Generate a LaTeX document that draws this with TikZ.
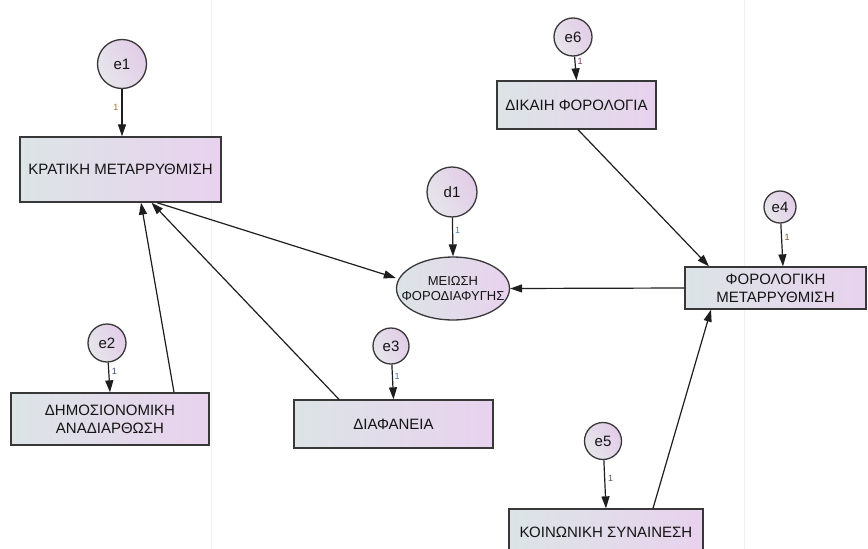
\documentclass[tikz,border=0pt]{standalone}
\usepackage{fontspec}
\setmainfont{Liberation Sans}
\usetikzlibrary{arrows.meta,shapes.geometric}
\definecolor{edgegray}{HTML}{383838}
\definecolor{linec}{HTML}{1E1E1E}
\definecolor{fillL}{HTML}{DCE4E6}
\definecolor{fillR}{HTML}{E8D2EE}
\definecolor{circL}{HTML}{E6E6EA}
\definecolor{circR}{HTML}{E2CCE8}
\definecolor{textc}{HTML}{141414}
\definecolor{pageline}{HTML}{F1F1F1}
\definecolor{wA}{HTML}{A8742C}
\definecolor{wB}{HTML}{3C7DB4}
\definecolor{wC}{HTML}{8A2A66}
\definecolor{wD}{HTML}{7A4E2A}
\definecolor{wE}{HTML}{3A4C80}
\definecolor{wF}{HTML}{4A6EA0}
\definecolor{wG}{HTML}{5A5A5A}
\begin{document}
\begin{tikzpicture}[x=1pt,y=-1pt,
  obs/.style={rectangle, draw=edgegray, line width=1.3pt, left color=fillL, right color=fillR,
    inner sep=0pt, align=center, text=textc, font=\fontsize{15}{18}\selectfont},
  err/.style={circle, draw=edgegray, line width=1.3pt, left color=circL, right color=circR,
    shading angle=120, inner sep=0pt, text=textc, font=\fontsize{15}{18}\selectfont},
  lat/.style={ellipse, draw=edgegray, line width=1.3pt, left color=fillL, right color=fillR,
    inner sep=0pt},
  lattext/.style={inner sep=0pt, align=center, text=textc, font=\fontsize{13}{15}\selectfont},
  pth/.style={draw=linec, line width=1.2pt, -{Triangle[length=12pt,width=8pt]}},
  wt/.style={inner sep=0pt, font=\fontsize{9}{10}\selectfont}]
\useasboundingbox (0,0) rectangle (868,549);
\fill[white] (0,0) rectangle (868,549);

% page boundaries of the drawing sheet
\draw[pageline, line width=0.8pt] (211,0) -- (211,549);
\draw[pageline, line width=0.8pt] (744,0) -- (744,549);

% observed variables
\node[obs, minimum width=201pt, minimum height=65pt] (kr) at (120.5,169.5) {ΚΡΑΤΙΚΗ ΜΕΤΑΡΡΥΘΜΙΣΗ};
\node[obs, minimum width=198pt, minimum height=52pt] (dh) at (110,419) {ΔΗΜΟΣΙΟΝΟΜΙΚΗ\\ΑΝΑΔΙΑΡΘΩΣΗ};
\node[obs, minimum width=199pt, minimum height=48pt] (di) at (393.5,424) {ΔΙΑΦΑΝΕΙΑ};
\node[obs, minimum width=159pt, minimum height=48pt] (dk) at (576.5,105) {ΔΙΚΑΙΗ ΦΟΡΟΛΟΓΙΑ};
\node[obs, minimum width=181pt, minimum height=42pt] (fm) at (775.5,288) {ΦΟΡΟΛΟΓΙΚΗ\\ΜΕΤΑΡΡΥΘΜΙΣΗ};
\node[obs, minimum width=194pt, minimum height=46pt] (ko) at (606,532) {ΚΟΙΝΩΝΙΚΗ ΣΥΝΑΙΝΕΣΗ};

% latent outcome: fixed-size ellipse with its label set on top
\node[lat, minimum width=113pt, minimum height=63pt] (mf) at (453,288.5) {};
\node[lattext] (mftext) at (mf.center) {ΜΕΙΩΣΗ\\ΦΟΡΟΔΙΑΦΥΓΗΣ};

% error terms
\node[err, minimum size=49pt] (e1) at (122,64) {e1};
\node[err, minimum size=50pt] (d1) at (452,192) {d1};
\node[err, minimum size=38pt] (e6) at (573,37) {e6};
\node[err, minimum size=32pt] (e4) at (780,207) {e4};
\node[err, minimum size=38pt] (e2) at (107,343) {e2};
\node[err, minimum size=36pt] (e3) at (391,346) {e3};
\node[err, minimum size=37pt] (e5) at (603,441) {e5};

% error paths
\draw[pth] (e1) -- ([xshift=1.5pt]kr.north);
\draw[pth] (d1) -- (mf.north);
\draw[pth] (e6) -- (dk.north);
\draw[pth] (e4) -- ([xshift=7.5pt]fm.north);
\draw[pth] (e2) -- (dh.north);
\draw[pth] (e3) -- (di.north);
\draw[pth] (e5) -- (ko.north);

% regression weights fixed to one
\node[wt, text=wA] (w1) at (116,107) {1};
\node[wt, text=wB] (w2) at (457.5,230) {1};
\node[wt, text=wC] (w3) at (580,61) {1};
\node[wt, text=wD] (w4) at (787,237) {1};
\node[wt, text=wE] (w5) at (114.5,371) {1};
\node[wt, text=wF] (w6) at (397,376) {1};
\node[wt, text=wG] (w7) at (610.5,478) {1};

% structural paths
\draw[pth] ([xshift=64pt]dh.north) -- ([xshift=20.5pt]kr.south);
\draw[pth] ([xshift=-54.5pt]di.north) -- ([xshift=31pt]kr.south);
\draw[pth] ([xshift=36.5pt]kr.south) -- (mf.west |- 0,278);
\draw[pth] ([xshift=1.5pt]dk.south) -- ([xshift=-66.5pt]fm.north);
\draw[pth] (fm.west) -- (mf.east);
\draw[pth] ([xshift=47pt]ko.north) -- ([xshift=-64.5pt]fm.south);
\end{tikzpicture}
\end{document}
